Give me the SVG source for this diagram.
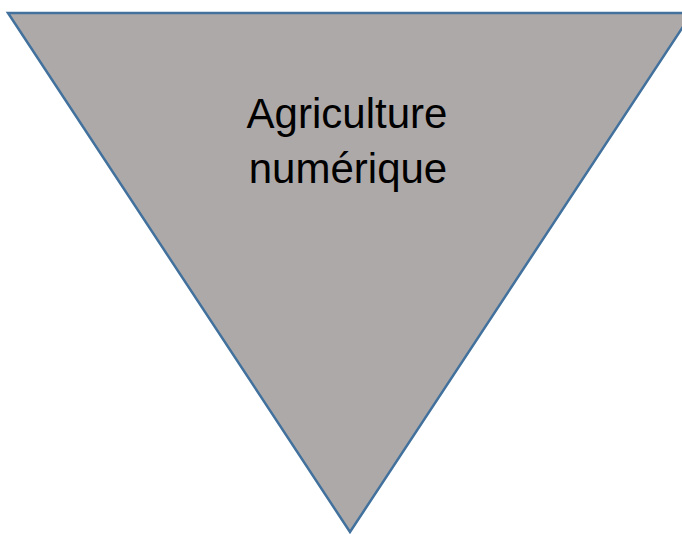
<svg xmlns="http://www.w3.org/2000/svg" width="682" height="534" viewBox="0 0 682 534">
<style>
.tri{fill:#ADA9A9;stroke:#41719C;stroke-width:2.5;stroke-linejoin:miter}
.lbl{font-family:"Liberation Sans",Arial,sans-serif;font-size:42px;fill:#000;text-anchor:middle}
</style>
<rect width="682" height="534" fill="#fff"/>
<g id="node-triangle">
<polygon class="tri" points="8,13 692,13 350,532"/>
<text class="lbl" x="347" y="128">Agriculture</text>
<text class="lbl" x="348" y="183">numérique</text>
</g>
<g id="connectors"/>
</svg>
